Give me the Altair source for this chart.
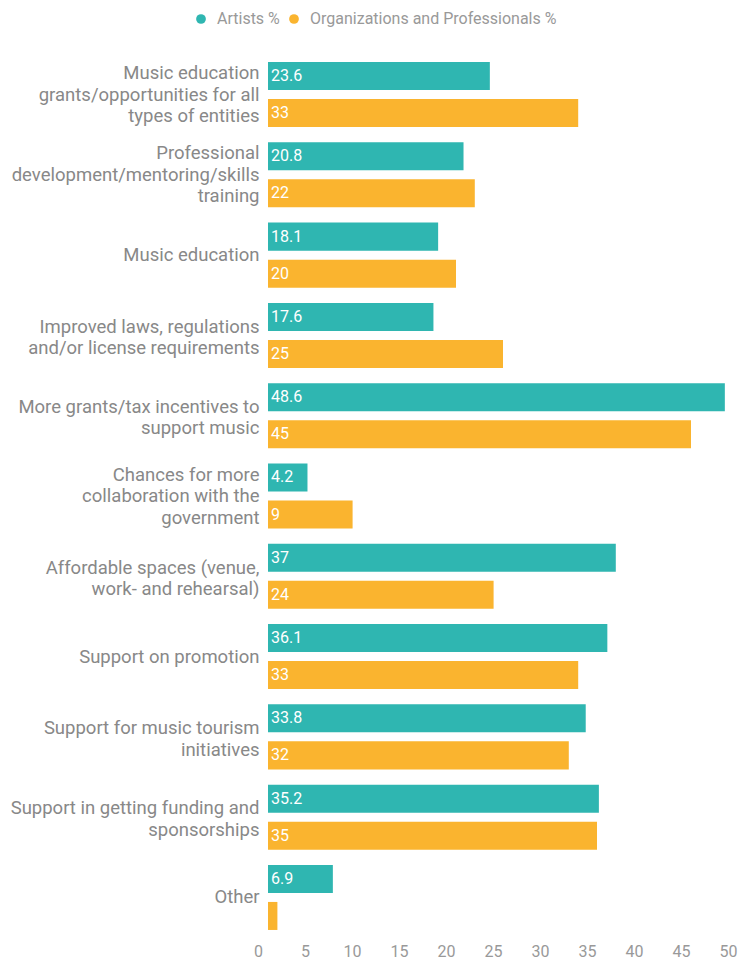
import altair as alt
import pandas as pd

categories = [
    "Music education|grants/opportunities for all|types of entities",
    "Professional|development/mentoring/skills|training",
    "Music education",
    "Improved laws, regulations|and/or license requirements",
    "More grants/tax incentives to|support music",
    "Chances for more|collaboration with the|government",
    "Affordable spaces (venue,|work- and rehearsal)",
    "Support on promotion",
    "Support for music tourism|initiatives",
    "Support in getting funding and|sponsorships",
    "Other",
]
artists = [23.6, 20.8, 18.1, 17.6, 48.6, 4.2, 37, 36.1, 33.8, 35.2, 6.9]
orgs = [33, 22, 20, 25, 45, 9, 24, 33, 32, 35, 1]
artist_labels = ["23.6", "20.8", "18.1", "17.6", "48.6", "4.2", "37", "36.1", "33.8", "35.2", "6.9"]
org_labels = ["33", "22", "20", "25", "45", "9", "24", "33", "32", "35", ""]
series_names = ["Artists %", "Organizations and Professionals %"]
x_ticks = [0, 5, 10, 15, 20, 25, 30, 35, 40, 45, 50]

rows = []
for i, c in enumerate(categories):
    rows.append(dict(category=c, series=series_names[0], value=artists[i], label=artist_labels[i]))
    rows.append(dict(category=c, series=series_names[1], value=orgs[i], label=org_labels[i]))
df = pd.DataFrame(rows)

TEAL = "#2fb6b1"
ORANGE = "#fab42f"
LH = 21.5

y = alt.Y(
    "category:N",
    sort=categories,
    scale=alt.Scale(paddingInner=0.19, paddingOuter=0.125),
    axis=alt.Axis(
        title=None,
        labelExpr="split(datum.label, '|')",
        domain=False,
        ticks=False,
        labelPadding=9,
        labelFontSize=18.5,
        labelColor="#888888",
        labelFont="Roboto",
        labelLineHeight=LH,
        labelLimit=300,
        labelOffset={
            "condition": [
                {"test": "length(split(datum.value, '|')) == 3", "value": -LH},
                {"test": "length(split(datum.value, '|')) == 2", "value": -LH / 2 + 2},
            ],
            "value": 0,
        },
    ),
)
yoff = alt.YOffset("series:N", sort=series_names, scale=alt.Scale(paddingInner=0.243, paddingOuter=0))

x = alt.X(
    "value:Q",
    scale=alt.Scale(domain=[0, 50], nice=False),
    axis=alt.Axis(
        title=None,
        values=x_ticks,
        grid=False,
        domain=False,
        ticks=False,
        labelFlush=False,
        labelOffset=-10,
        labelPadding=3,
        labelFontSize=16,
        labelColor="#999999",
        labelFont="Roboto",
    ),
)

color = alt.Color(
    "series:N",
    sort=series_names,
    scale=alt.Scale(domain=series_names, range=[TEAL, ORANGE]),
    legend=alt.Legend(
        title=None,
        orient="none",
        legendX=-75,
        legendY=-41,
        direction="horizontal",
        symbolType="circle",
        symbolSize=95,
        labelFontSize=16,
        labelColor="#999999",
        labelFont="Roboto",
        labelLimit=400,
        columnPadding=6,
        labelOffset=8,
        padding=0,
        symbolStrokeWidth=0,
    ),
)

bars = alt.Chart(df).mark_bar().encode(x=x, y=y, yOffset=yoff, color=color)
text = alt.Chart(df).mark_text(
    align="left", baseline="middle", dx=3, color="white", fontSize=16, font="Roboto"
).encode(x=alt.datum(0), y=y, yOffset=yoff, text="label:N")

chart = (
    alt.layer(bars, text)
    .properties(
        width=470,
        height=888,
        autosize=alt.AutoSizeParams(type="none"),
        padding={"left": 268, "top": 52, "right": 0, "bottom": 19},
        background="white",
    )
    .configure_view(stroke=None)
)

chart.save("out.html", embed_options={"renderer": "svg", "actions": False})
